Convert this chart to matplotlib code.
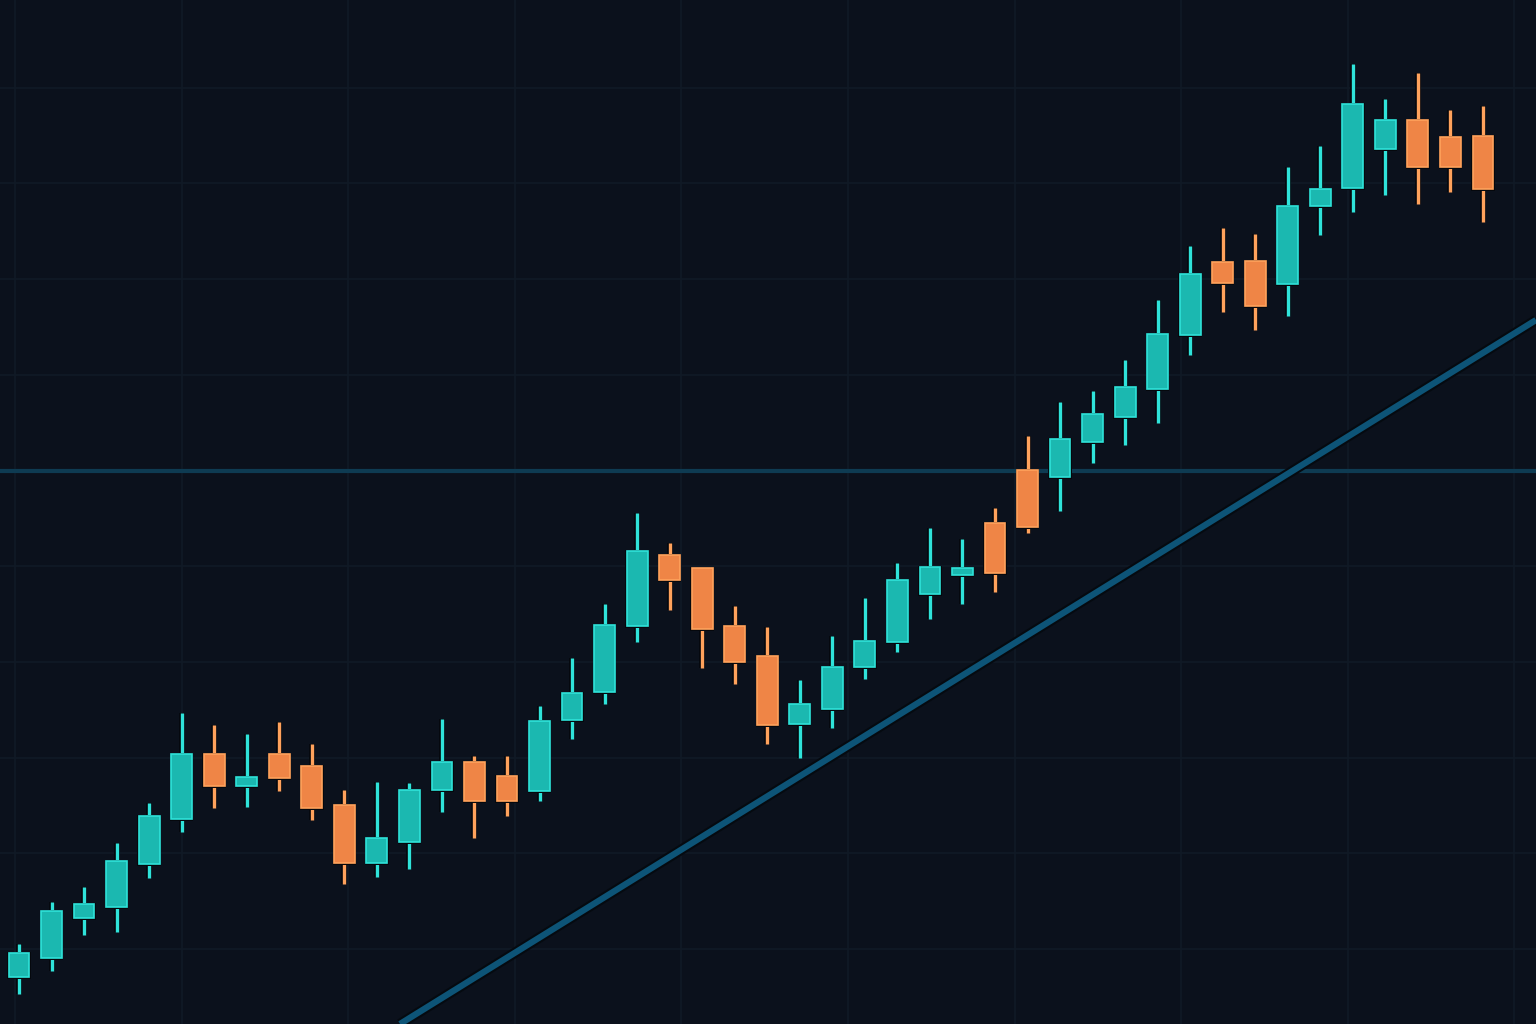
import numpy as np
import matplotlib
matplotlib.use("Agg")
import matplotlib.pyplot as plt
from matplotlib.patches import Rectangle

# OHLC values for each candle (price units)
opens = [47, 66, 106, 117, 160, 205, 270, 238, 270, 258, 219, 161, 182, 234, 262, 248,
         233, 304, 332, 398, 469, 456, 398, 368, 300, 315, 357, 382, 430, 449,
         501, 554, 547, 582, 607, 635, 689, 762, 763, 740, 818, 836, 875, 904, 887, 888]
highs = [80, 122, 137, 181, 221, 311, 299, 290, 302, 280, 234, 242, 241, 305, 268, 268,
         318, 366, 420, 511, 481, 456, 418, 397, 344, 388, 426, 461, 496, 485,
         516, 588, 622, 633, 664, 724, 778, 796, 790, 857, 878, 960, 925, 951, 914, 918]
lows = [30, 53, 89, 92, 146, 192, 216, 217, 233, 204, 140, 147, 155, 212, 186, 208,
        223, 285, 320, 382, 414, 356, 340, 280, 266, 296, 345, 372, 405, 420,
        432, 491, 513, 561, 579, 601, 669, 712, 694, 708, 789, 812, 829, 820, 832, 802]
closes = [71, 113, 120, 163, 208, 270, 238, 247, 246, 216, 161, 186, 234, 262, 223, 223,
          303, 331, 399, 473, 444, 395, 362, 299, 320, 357, 383, 444, 457, 456,
          451, 497, 585, 610, 637, 690, 750, 741, 718, 818, 835, 920, 904, 857, 857, 835]

# support / resistance levels
resistance = 553
trend_x = [11.71, 46.63]
trend_y = [0, 704]

bg = "#0b111c"
grid_c = "#111a26"
up_face, up_edge = "#1bb8b0", "#2fe3da"
dn_face, dn_edge = "#ef8546", "#ffa25c"

fig = plt.figure(figsize=(15.36, 10.24), dpi=100)
fig.patch.set_facecolor(bg)
ax = fig.add_axes([0, 0, 1, 1])
ax.set_facecolor(bg)
ax.set_xlim(-0.584, 46.63)
ax.set_ylim(0, 1024)

# faint grid
for gy in np.arange(75, 1000, 95.7):
    ax.axhline(gy, color=grid_c, lw=1.2, zorder=0)
for gx in np.arange(-0.12, 47, 5.12):
    ax.axvline(gx, color=grid_c, lw=1.2, zorder=0)

# levels
ax.axhline(resistance, color="#0e3b52", lw=3, zorder=1)
ax.plot(trend_x, trend_y, color="#050a10", lw=7.5, zorder=1, solid_capstyle="butt")
ax.plot(trend_x, trend_y, color="#0d5477", lw=4.5, zorder=2, solid_capstyle="butt")

w = 0.64
for i, (o, h, l, c) in enumerate(zip(opens, highs, lows, closes)):
    up = c >= o
    face = up_face if up else dn_face
    edge = up_edge if up else dn_edge
    ax.plot([i, i], [l, h], color="#05080d", lw=4.2, zorder=3, solid_capstyle="butt")
    ax.plot([i, i], [l, h], color=edge, lw=2.4, zorder=4, solid_capstyle="butt")
    lo, hi = min(o, c), max(o, c)
    ax.add_patch(Rectangle((i - w / 2 - 0.04, lo - 1.5), w + 0.08, hi - lo + 3,
                           facecolor="#05080d", edgecolor="none", zorder=5))
    ax.add_patch(Rectangle((i - w / 2, lo), w, hi - lo, facecolor=face,
                           edgecolor=edge, lw=1.2, zorder=6))

ax.axis("off")
fig.savefig("out.png", dpi=100, facecolor=bg)
